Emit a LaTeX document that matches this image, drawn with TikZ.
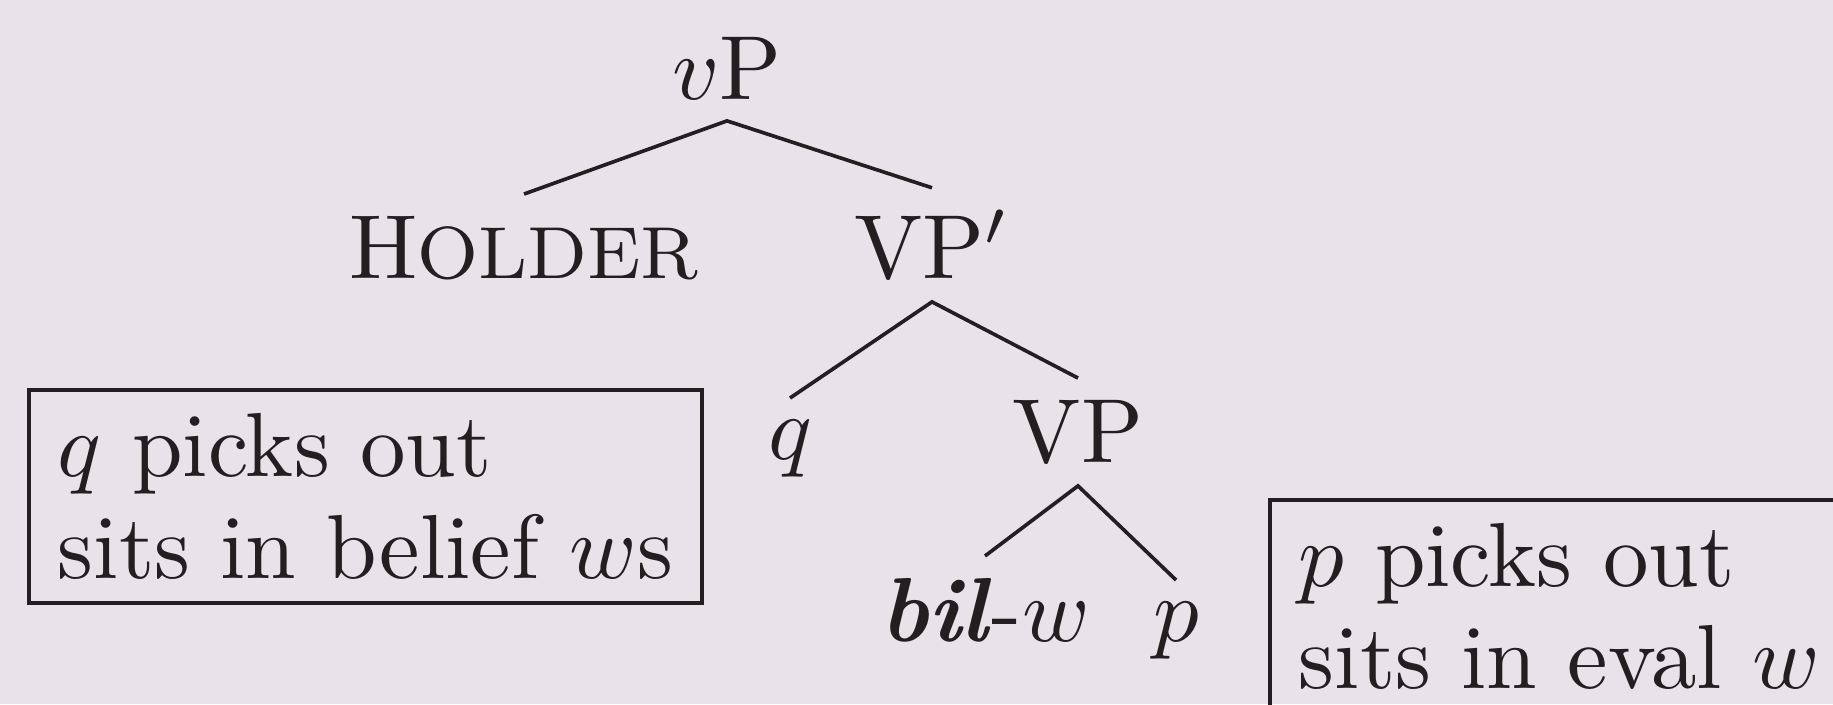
\documentclass[tikz,border=0pt]{standalone}
\usepackage{xcolor}
\definecolor{bg}{RGB}{231,227,233}
\definecolor{ink}{RGB}{35,31,32}
\newcommand{\fakesc}[2]{#1{\fontsize{8.1}{9.7}\selectfont #2}}
\begin{document}
\begin{tikzpicture}[x=0.10989pt,y=-0.10989pt,
  lbl/.style={text=ink, inner sep=2.2pt, anchor=base},
  edge/.style={draw=ink, line width=0.4pt},
  note/.style={draw=ink, text=ink, line width=0.4pt, align=left, inner xsep=3.2pt, inner ysep=2.6pt, anchor=north west, font=\fontsize{10}{11.2}\selectfont}]
\fill[bg] (0,0) rectangle (1833,704);
\useasboundingbox (0,0) rectangle (1833,704);
\clip (0,0) rectangle (1833,704);
\node[lbl] (vP) at (727,99) {$v$P};
\node[lbl] (holder) at (524,278) {\fakesc{H}{OLDER}};
\node[lbl] (VPbar) at (932,278) {VP$'$};
\node[lbl] (q) at (790,459) {$q$};
\node[lbl] (VP) at (1078,462) {VP};
\node[lbl] (bil) at (985,641) {\textbf{\textit{bil}}-$w$};
\node[lbl] (p) at (1176,641) {$p$};
\draw[edge] (holder.north) -- (vP.south) -- (VPbar.north);
\draw[edge] (q.north) -- (VPbar.south) -- (VP.north);
\draw[edge] (bil.north) -- (VP.south) -- (p.north);
\node[note] (qbox) at (27,388) {$q$ picks out\\sits in belief $w$s};
\node[note] (pbox) at (1268,498) {$p$ picks out\\sits in eval $w$};
\end{tikzpicture}
\end{document}
